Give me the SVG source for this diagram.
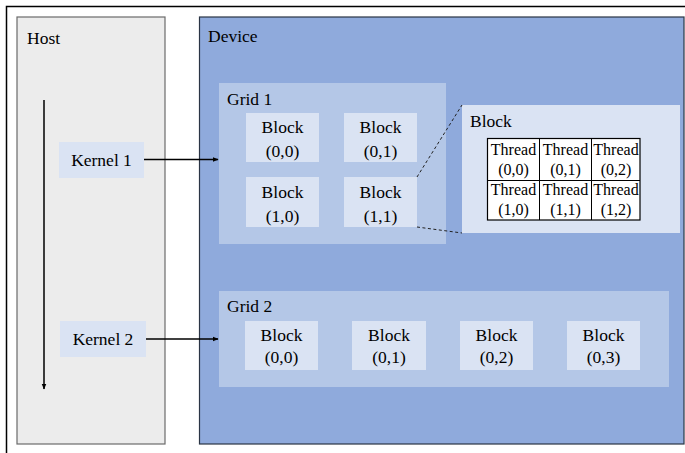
<svg xmlns="http://www.w3.org/2000/svg" width="685" height="453" viewBox="0 0 685 453" font-family="'Liberation Serif', 'Times New Roman', 'DejaVu Serif', serif">
  <defs>
    <marker id="arrow" viewBox="0 0 10 10" refX="9" refY="5" markerWidth="6" markerHeight="6" orient="auto" markerUnits="userSpaceOnUse">
      <path d="M0,1 L10,5 L0,9 z" fill="#000"/>
    </marker>
    <style>
      text { font-family: 'Liberation Serif', 'Times New Roman', 'DejaVu Serif', serif; fill: #000; }
      .lbl { font-size: 17.5px; }
      .ctr { font-size: 17.5px; text-anchor: middle; }
      .th { font-size: 16px; text-anchor: middle; }
      .block { fill: #dae3f3; }
      .grid { fill: #b4c7e7; }
      .conn { stroke: #000; stroke-width: 1.5; fill: none; }
      .dash { stroke: #222; stroke-width: 1; stroke-dasharray: 3 2.5; fill: none; }
      .cell { stroke: #000; stroke-width: 1; }
    </style>
  </defs>

  <rect width="685" height="453" fill="#fff"/>
  <!-- frame -->
  <path d="M6.5,453 V6.5 H685" stroke="#000" stroke-width="1.5" fill="none"/>

  <!-- host -->
  <g id="host">
    <rect x="17" y="17" width="148" height="427" fill="#ececec" stroke="#6b6b6b" stroke-width="1.2"/>
    <text class="lbl" x="27" y="44">Host</text>
  </g>

  <!-- device -->
  <g id="device">
    <rect x="199.5" y="17" width="484.5" height="427" fill="#8faadc" stroke="#2a3444" stroke-width="1.2"/>
    <text class="lbl" x="208" y="42">Device</text>
  </g>

  <g id="kernel1">
    <rect class="block" x="59" y="142" width="85" height="36"/>
    <text class="ctr" x="101.5" y="166">Kernel 1</text>
  </g>
  <g id="kernel2">
    <rect class="block" x="60" y="321" width="86" height="36"/>
    <text class="ctr" x="103" y="345">Kernel 2</text>
  </g>

  <!-- grid 1 -->
  <g id="grid1">
    <rect class="grid" x="219" y="83" width="227" height="161"/>
    <text class="lbl" x="227" y="105">Grid 1</text>
  </g>
  <g id="g1b00">
    <rect class="block" x="246" y="113" width="73" height="49"/>
    <text class="ctr" x="282.5" y="133">Block</text>
    <text class="ctr" x="282.5" y="157">(0,0)</text>
  </g>
  <g id="g1b01">
    <rect class="block" x="344" y="113" width="73" height="49"/>
    <text class="ctr" x="380.5" y="133">Block</text>
    <text class="ctr" x="380.5" y="157">(0,1)</text>
  </g>
  <g id="g1b10">
    <rect class="block" x="246" y="177" width="73" height="50"/>
    <text class="ctr" x="282.5" y="198">Block</text>
    <text class="ctr" x="282.5" y="222">(1,0)</text>
  </g>
  <g id="g1b11">
    <rect class="block" x="344" y="177" width="73" height="50"/>
    <text class="ctr" x="380.5" y="198">Block</text>
    <text class="ctr" x="380.5" y="222">(1,1)</text>
  </g>

  <!-- expanded block with threads -->
  <g id="blockDetail">
    <rect class="block" x="462" y="105" width="218" height="128"/>
    <text class="lbl" x="470" y="127">Block</text>
    <rect x="487.5" y="138.5" width="152.5" height="81.5" fill="#fff" stroke="#000" stroke-width="1.2"/>
    <path class="cell" d="M539.5,138.5 V220 M591.5,138.5 V220 M487.5,180.5 H640"/>
    <text class="th" x="513.5" y="155">Thread</text>
    <text class="th" x="513.5" y="175">(0,0)</text>
    <text class="th" x="565.5" y="155">Thread</text>
    <text class="th" x="565.5" y="175">(0,1)</text>
    <text class="th" x="616" y="155">Thread</text>
    <text class="th" x="616" y="175">(0,2)</text>
    <text class="th" x="513.5" y="195">Thread</text>
    <text class="th" x="513.5" y="215">(1,0)</text>
    <text class="th" x="565.5" y="195">Thread</text>
    <text class="th" x="565.5" y="215">(1,1)</text>
    <text class="th" x="616" y="195">Thread</text>
    <text class="th" x="616" y="215">(1,2)</text>
  </g>

  <!-- grid 2 -->
  <g id="grid2">
    <rect class="grid" x="219" y="291" width="450" height="96"/>
    <text class="lbl" x="227" y="312">Grid 2</text>
  </g>
  <g id="g2b00">
    <rect class="block" x="245" y="321" width="73" height="49"/>
    <text class="ctr" x="281.5" y="341">Block</text>
    <text class="ctr" x="281.5" y="363">(0,0)</text>
  </g>
  <g id="g2b01">
    <rect class="block" x="352" y="321" width="74" height="49"/>
    <text class="ctr" x="389" y="341">Block</text>
    <text class="ctr" x="389" y="363">(0,1)</text>
  </g>
  <g id="g2b02">
    <rect class="block" x="460" y="321" width="73" height="49"/>
    <text class="ctr" x="496.5" y="341">Block</text>
    <text class="ctr" x="496.5" y="363">(0,2)</text>
  </g>
  <g id="g2b03">
    <rect class="block" x="567" y="321" width="73" height="49"/>
    <text class="ctr" x="603.5" y="341">Block</text>
    <text class="ctr" x="603.5" y="363">(0,3)</text>
  </g>

  <!-- connectors -->
  <g id="connectors">
    <line class="conn" x1="44" y1="100" x2="44" y2="389" marker-end="url(#arrow)"/>
    <line class="conn" x1="144" y1="159.5" x2="218" y2="159.5" marker-end="url(#arrow)"/>
    <line class="conn" x1="146" y1="339" x2="218" y2="339" marker-end="url(#arrow)"/>
    <line class="dash" x1="417" y1="177" x2="462" y2="105"/>
    <line class="dash" x1="417" y1="227" x2="462" y2="233"/>
  </g>
</svg>
